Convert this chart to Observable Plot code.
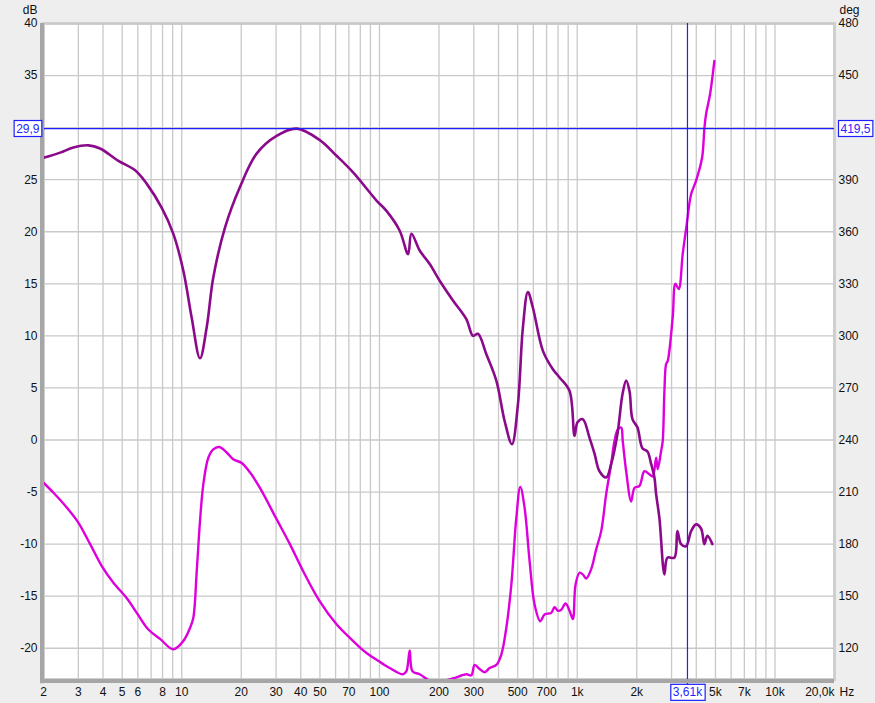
<!DOCTYPE html>
<html><head><meta charset="utf-8">
<script src="https://cdn.jsdelivr.net/npm/d3@7"></script>
<script src="https://cdn.jsdelivr.net/npm/@observablehq/plot@0.6"></script>
<style>
body{margin:0;background:#eeeeee;font-family:"Liberation Sans",Arial,sans-serif;}
#chart svg{display:block;background:transparent;}
</style></head><body><div id="chart"></div>
<script>
// Trace A (dark purple) — frequency (Hz) and level (dB, left axis)
const traceAFreq = [2.0,2.43,2.835,3.376,3.868,4.783,5.81,6.657,7.926,9.07,10.19,11.23,12.37,13.37,14.44,16.55,19.70,23.92,30.18,38.09,49.93,60.65,73.56,96.6,108.5,126.6,139.5,145.1,159.7,179.5,201.6,235.3,275.0,297.0,314.8,347.1,389.9,429.4,467.6,501.2,531.2,563.0,596.9,670.6,753.1,814.3,914.6,969.2,1003.6,1067,1154,1223,1296,1401,1485,1598,1694,1768,1838,1903,2017,2137,2265,2365,2457,2506,2604,2760,2858,3100,3210,3352,3553,3766,3991,4230,4396,4551,4824];
const traceADb = [27.1,27.6,28.1,28.3,28.0,26.8,25.9,24.6,22.3,19.8,16.25,11.75,7.85,10.8,15.6,20.4,24.3,27.5,29.2,29.9,28.8,27.3,25.7,23.0,22.0,20.1,17.85,19.8,18.2,16.9,15.3,13.4,11.6,10.0,10.2,8.24,5.7,1.83,-0.4,3.4,10.8,14.2,12.7,8.56,6.8,6.0,4.7,0.4,1.7,2.0,0.2,-1.3,-3.0,-3.6,-2.3,0.6,4.4,5.7,4.7,2.0,1.2,-0.8,-1.1,-2.3,-3.6,-5.2,-7.5,-12.9,-11.3,-11.3,-8.75,-10.0,-10.2,-8.75,-8.1,-8.5,-10.0,-9.2,-10.0];

// Trace B (magenta) — frequency (Hz) and level (dB units of left axis)
const traceBFreq = [2.0,2.247,2.626,3.005,3.443,3.944,4.513,5.276,5.926,6.782,7.77,9.07,10.19,11.01,11.44,11.91,12.37,12.86,13.63,14.44,15.49,16.88,18.22,20.10,22.13,24.86,30.18,35.24,41.13,49.93,60.65,73.56,85.99,98.39,112.7,131.6,136.9,142.2,146.8,159.7,183.1,201.6,235.3,275.0,291.5,302.9,321.1,340.3,360.6,389.9,413.2,437.9,464.3,491.9,515.3,541.8,574.2,608.8,650.6,683.9,739.2,768.1,798.2,830.4,873.0,914.6,950.6,980.5,1027,1067,1110,1177,1247,1322,1401,1485,1543,1604,1668,1699,1768,1874,1947,2064,2187,2319,2409,2506,2553,2656,2706,2760,2815,2868,3040,3136,3260,3415,3578,3766,3991,4279,4396,4482,4696,4937];
const traceBDb = [-4.1,-5.07,-6.5,-7.95,-10.0,-12.1,-13.7,-15.2,-16.6,-18.2,-19.1,-20.1,-19.3,-18.05,-17.1,-12.6,-7.8,-4.26,-1.7,-0.9,-0.67,-1.2,-1.85,-2.2,-3.1,-4.6,-7.6,-10.0,-12.6,-15.5,-17.7,-19.3,-20.45,-21.2,-21.9,-22.5,-22.2,-20.2,-22.2,-22.5,-23.2,-23.2,-22.9,-22.5,-22.6,-21.6,-22.0,-22.3,-21.9,-21.6,-20.6,-18.05,-13.9,-7.5,-4.5,-6.5,-11.6,-15.8,-17.4,-16.75,-16.6,-16.06,-16.4,-16.3,-15.7,-16.4,-17.2,-13.9,-12.75,-12.9,-13.3,-12.4,-10.5,-8.75,-5.2,-2.3,-0.1,1.0,1.2,-0.1,-3.0,-5.9,-4.6,-4.4,-3.0,-3.3,-3.5,-1.7,-2.8,-1.06,-0.1,4.7,7.3,7.6,11.8,15.0,14.5,17.85,20.7,23.6,24.9,27.1,29.9,31.3,33.2,36.4];

// Axes (labels hidden in the reference behind the cursor read-outs are left out)
const xTickValues = [2,3,4,5,6,8,10,20,30,40,50,70,100,200,300,500,700,1000,2000,5000,7000,10000];
const xTickLabels = ["2","3","4","5","6","8","10","20","30","40","50","70","100","200","300","500","700","1k","2k","5k","7k","10k"];
const xLastTick = 20000, xLastLabel = "20,0k";
const yTicks = [-20,-15,-10,-5,0,5,10,15,20,25,30,35,40];
const yLeftTicks = [-20,-15,-10,-5,0,5,10,15,20,25,35,40];
const yLeftLabels = ["-20","-15","-10","-5","0","5","10","15","20","25","35","40"];
const yRightLabels = ["120","150","180","210","240","270","300","330","360","390","450","480"];

// Cursor
const cursorFreq = 3610, cursorFreqLabel = "3,61k";
const cursorDb = 29.9, cursorDbLabel = "29,9", cursorDegLabel = "419,5";

const traceA = traceAFreq.map((f,i)=>({f, v: traceADb[i]}));
const traceB = traceBFreq.map((f,i)=>({f, v: traceBDb[i]}));
const gridFreqs = [];
for (let dec = 1; dec <= 10000; dec *= 10) for (let m = 1; m <= 9; m++) { const f = m*dec; if (f > 2 && f < 20000) gridFreqs.push(f); }

const blue = "#1f1fff";
const plot = Plot.plot({
  width: 875, height: 703,
  marginLeft: 43, marginRight: 41, marginTop: 23, marginBottom: 24,
  style: {fontFamily: '"Liberation Sans", Arial, sans-serif', fontSize: "12px", color: "#111", background: "transparent", overflow: "visible"},
  x: {type: "log", domain: [2, 20000], axis: null},
  y: {domain: [-23, 40], axis: null},
  marks: [
    Plot.frame({fill: "white", stroke: "#cfcfcf", strokeWidth: 3}),
    Plot.ruleX(gridFreqs, {stroke: "#c9c9c9", strokeWidth: 1.3}),
    Plot.ruleY(yTicks, {stroke: "#c9c9c9", strokeWidth: 1.3}),
    Plot.line(traceB, {x: "f", y: "v", stroke: "#dd00dd", strokeWidth: 2.4, curve: "catmull-rom", clip: true}),
    Plot.line(traceA, {x: "f", y: "v", stroke: "#8b0a8b", strokeWidth: 2.6, curve: "catmull-rom", clip: true}),
    Plot.ruleY([cursorDb], {stroke: blue, strokeWidth: 1.2}),
    Plot.ruleX([cursorFreq], {stroke: blue, strokeWidth: 1.2, y1: -23.6, y2: 40}),
    Plot.ruleX([2], {stroke: "#a6a6a6", strokeWidth: 4, dx: -1.5, y1: -23.4, y2: 40}),
    Plot.ruleY([-23], {stroke: "#a6a6a6", strokeWidth: 4, dy: 1.5}),
    Plot.text(yLeftTicks, {y: d => d, text: (d, i) => yLeftLabels[i], frameAnchor: "left", textAnchor: "end", dx: -6, fill: "#111"}),
    Plot.text(yLeftTicks, {y: d => d, text: (d, i) => yRightLabels[i], frameAnchor: "right", textAnchor: "start", dx: 4, fill: "#111"}),
    Plot.text(xTickValues, {x: d => d, text: (d, i) => xTickLabels[i], frameAnchor: "bottom", dy: 13, lineAnchor: "middle", fill: "#111"}),
    Plot.text([xLastLabel], {x: () => xLastTick, frameAnchor: "bottom", textAnchor: "end", dy: 13, lineAnchor: "middle", fill: "#111"}),
    Plot.text(["Hz"], {frameAnchor: "bottom-right", textAnchor: "start", dx: 5, dy: 13, lineAnchor: "middle", fill: "#111"}),
    Plot.text(["dB"], {frameAnchor: "top-left", textAnchor: "end", dx: -6, dy: -13, lineAnchor: "middle", fill: "#111"}),
    Plot.text(["deg"], {frameAnchor: "top-right", textAnchor: "start", dx: 5, dy: -13, lineAnchor: "middle", fill: "#111"}),
    Plot.text([cursorDbLabel], {y: () => cursorDb, frameAnchor: "left", textAnchor: "end", dx: -4, fill: blue, className: "cursor-box"}),
    Plot.text([cursorDegLabel], {y: () => cursorDb, frameAnchor: "right", textAnchor: "start", dx: 6, fill: blue, className: "cursor-box"}),
    Plot.text([cursorFreqLabel], {x: () => cursorFreq, frameAnchor: "bottom", dy: 13, lineAnchor: "middle", fill: blue, className: "cursor-box"})
  ]
});
document.getElementById("chart").appendChild(plot);
// draw white boxes with blue outline behind cursor readouts
plot.querySelectorAll("g.cursor-box text").forEach(t => {
  const b = t.getBBox();
  const r = document.createElementNS("http://www.w3.org/2000/svg", "rect");
  r.setAttribute("x", b.x - 2); r.setAttribute("y", b.y - 1);
  r.setAttribute("width", b.width + 4); r.setAttribute("height", b.height + 2);
  r.setAttribute("fill", "white"); r.setAttribute("stroke", blue); r.setAttribute("stroke-width", 1.2);
  if (t.getAttribute("transform")) r.setAttribute("transform", t.getAttribute("transform"));
  t.parentNode.insertBefore(r, t);
});
</script>
</body></html>
